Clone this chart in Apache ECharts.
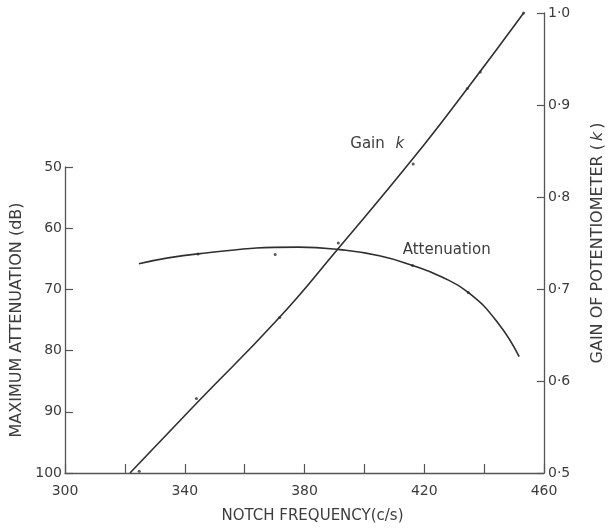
<!DOCTYPE html>
<html>
<head>
<meta charset="utf-8">
<script src="https://cdn.jsdelivr.net/npm/echarts@6/dist/echarts.min.js"></script>
<style>
  html, body { margin: 0; padding: 0; background: #ffffff; }
  #chart { width: 609px; height: 532px; }
</style>
</head>
<body>
<div id="chart"></div>
<script>
// Notch frequency (c/s) against gain k of the potentiometer and maximum attenuation (dB)

// Faired curve through the gain measurements
const gainCurveFreq = [321.7, 343.7, 371.6, 391.0, 416.3, 434.4, 453.2];
const gainCurveK    = [0.500, 0.575, 0.669, 0.743, 0.842, 0.918, 1.000];

// Measured gain points
const gainPointFreq = [324.8, 343.9, 371.7, 416.3, 434.4, 438.7, 453.2];
const gainPointK    = [0.502, 0.581, 0.669, 0.836, 0.918, 0.936, 1.000];

// Faired curve through the attenuation measurements
const attenCurveFreq = [324.7, 344.4, 378.0, 391.7, 405.0, 416.1, 425.5, 434.7, 444.5, 451.7];
const attenCurveDb   = [65.8, 64.2, 63.1, 63.5, 64.5, 66.1, 67.9, 70.5, 75.4, 81.0];

// Measured attenuation points
const attenPointFreq = [344.4, 370.2, 391.3, 416.1, 434.7];
const attenPointDb   = [64.2, 64.3, 62.4, 66.1, 70.5];

// Axis ranges and tick steps
const freqRange = [300, 460];
const freqStep = 20;
const freqLabelStep = 40;
const dbRange = [50, 100];
const dbStep = 10;
const kRange = [0.5, 1.0];
const kStep = 0.1;

// Curve annotations: [frequency, value]
const gainNoteAt = [404.3, 0.857];
const attenNoteAt = [427.5, 63.6];

const FONT = 'DejaVu Sans';
const INK = '#2f2f2f';
const TEXT = '#3c3c3c';
const AXIS = '#555555';

const pairs = (xs, ys) => xs.map((x, i) => [x, ys[i]]);

const chart = echarts.init(document.getElementById('chart'), null, { renderer: 'canvas' });

const freqAxisBase = {
  type: 'value',
  min: freqRange[0],
  max: freqRange[1],
  interval: freqStep,
  splitLine: { show: false }
};

chart.setOption({
  backgroundColor: '#ffffff',
  animation: false,
  grid: [
    { left: 65, right: 65, top: 13, bottom: 59, outerBoundsMode: 'none' },
    { left: 65, right: 65, top: 167, bottom: 59, outerBoundsMode: 'none' }
  ],
  xAxis: [
    Object.assign({}, freqAxisBase, {
      gridIndex: 0,
      position: 'bottom',
      name: 'NOTCH FREQUENCY(c/s)',
      nameLocation: 'middle',
      nameGap: 36,
      nameTextStyle: { fontFamily: FONT, fontSize: 15, color: TEXT, padding: [0, 0, 0, 16] },
      axisLine: { show: true, lineStyle: { color: AXIS, width: 1.3 } },
      axisTick: { show: true, inside: true, length: 9, lineStyle: { color: AXIS, width: 1.2 } },
      axisLabel: {
        fontFamily: FONT, fontSize: 14, color: TEXT, margin: 11,
        showMinLabel: true, showMaxLabel: true,
        formatter: v => {
          const r = Math.round(v);
          return (r - freqRange[0]) % freqLabelStep === 0 ? String(r) : '';
        }
      }
    }),
    Object.assign({}, freqAxisBase, {
      gridIndex: 1,
      show: false
    })
  ],
  yAxis: [
    {
      type: 'value',
      gridIndex: 0,
      position: 'right',
      min: kRange[0],
      max: kRange[1],
      interval: kStep,
      splitLine: { show: false },
      name: '{a|GAIN OF POTENTIOMETER (}{b|k}{a|)}',
      nameLocation: 'middle',
      nameGap: 46,
      nameTextStyle: {
        rich: {
          a: { fontFamily: FONT, fontSize: 16, color: TEXT },
          b: { fontFamily: FONT, fontSize: 16, color: TEXT, fontStyle: 'italic', padding: [0, 3, 0, 3] }
        }
      },
      axisLine: { show: true, lineStyle: { color: AXIS, width: 1.3 } },
      axisTick: { show: true, inside: true, length: 7, lineStyle: { color: AXIS, width: 1.2 } },
      axisLabel: {
        fontFamily: FONT, fontSize: 14, color: TEXT, margin: 4,
        formatter: v => v.toFixed(1).replace('.', '·')
      }
    },
    {
      type: 'value',
      gridIndex: 1,
      position: 'left',
      inverse: true,
      min: dbRange[0],
      max: dbRange[1],
      interval: dbStep,
      splitLine: { show: false },
      name: 'MAXIMUM ATTENUATION (dB)',
      nameLocation: 'middle',
      nameGap: 40,
      nameTextStyle: { fontFamily: FONT, fontSize: 16, color: TEXT },
      axisLine: { show: true, lineStyle: { color: AXIS, width: 1.3 } },
      axisTick: { show: true, inside: true, length: 8, lineStyle: { color: AXIS, width: 1.2 } },
      axisLabel: { fontFamily: FONT, fontSize: 14, color: TEXT, margin: 3 }
    }
  ],
  series: [
    {
      name: 'Gain k',
      type: 'line',
      xAxisIndex: 0,
      yAxisIndex: 0,
      data: pairs(gainCurveFreq, gainCurveK),
      smooth: 0.5,
      symbol: 'none',
      lineStyle: { color: INK, width: 1.6 },
      markPoint: {
        symbol: 'circle',
        symbolSize: 1,
        itemStyle: { color: 'rgba(0,0,0,0)' },
        label: {
          show: true,
          position: 'inside',
          formatter: '{a|Gain }{b|k}',
          rich: {
            a: { fontFamily: FONT, fontSize: 15, color: TEXT },
            b: { fontFamily: FONT, fontSize: 15, color: TEXT, fontStyle: 'italic', padding: [0, 0, 0, 6] }
          }
        },
        data: [{ coord: gainNoteAt }]
      }
    },
    {
      name: 'Gain points',
      type: 'scatter',
      xAxisIndex: 0,
      yAxisIndex: 0,
      data: pairs(gainPointFreq, gainPointK),
      symbol: 'circle',
      symbolSize: 3,
      itemStyle: { color: INK }
    },
    {
      name: 'Attenuation',
      type: 'line',
      xAxisIndex: 1,
      yAxisIndex: 1,
      data: pairs(attenCurveFreq, attenCurveDb),
      smooth: 0.5,
      symbol: 'none',
      lineStyle: { color: INK, width: 1.6 },
      markPoint: {
        symbol: 'circle',
        symbolSize: 1,
        itemStyle: { color: 'rgba(0,0,0,0)' },
        label: {
          show: true,
          position: 'inside',
          formatter: 'Attenuation',
          fontFamily: FONT,
          fontSize: 15,
          color: TEXT
        },
        data: [{ coord: attenNoteAt }]
      }
    },
    {
      name: 'Attenuation points',
      type: 'scatter',
      xAxisIndex: 1,
      yAxisIndex: 1,
      data: pairs(attenPointFreq, attenPointDb),
      symbol: 'circle',
      symbolSize: 3,
      itemStyle: { color: INK }
    }
  ]
});
</script>
</body>
</html>
